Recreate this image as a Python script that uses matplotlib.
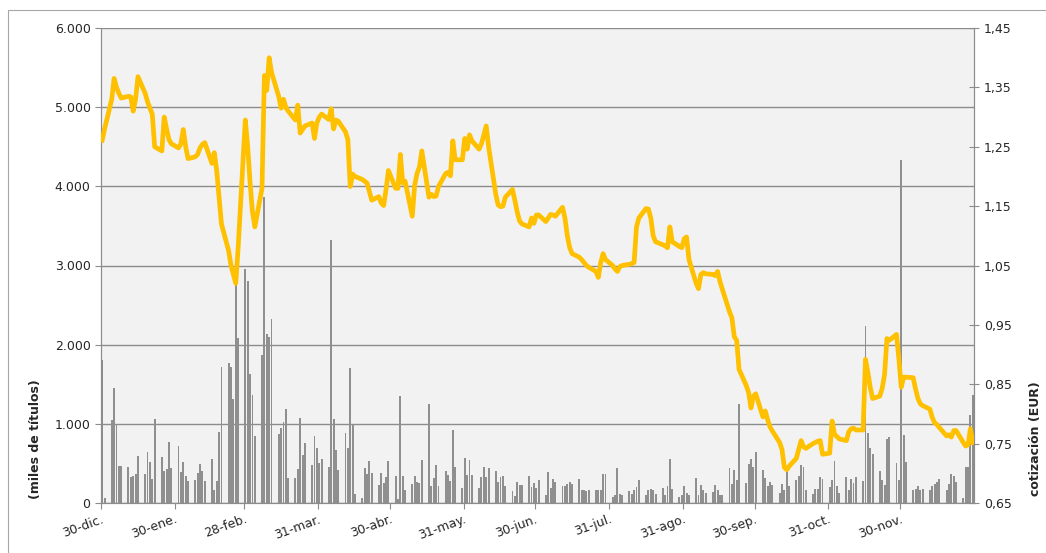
import numpy as np
import pandas as pd
import matplotlib
matplotlib.use("Agg")
import matplotlib.pyplot as plt
import matplotlib.dates as mdates
from matplotlib.patches import Rectangle

# trading sessions (weekdays) shown on the calendar axis
sessions = pd.bdate_range("2010-12-30", "2011-12-30")

# daily close, EUR (right axis) - one row per week
price = [
    1.261, 1.280,
    1.330, 1.365, 1.350, 1.340, 1.332,
    1.335, 1.334, 1.310, 1.330, 1.368,
    1.340, 1.326, 1.315, 1.305, 1.250,
    1.243, 1.300, 1.280, 1.262, 1.255,
    1.248, 1.255, 1.279, 1.250, 1.230,
    1.233, 1.237, 1.248, 1.254, 1.257,
    1.222, 1.240, 1.210, 1.166, 1.120,
    1.075, 1.050, 1.035, 1.020, 1.080,
    1.295, 1.250, 1.190, 1.140, 1.115,
    1.180, 1.370, 1.345, 1.400, 1.375,
    1.335, 1.315, 1.330, 1.316, 1.310,
    1.295, 1.320, 1.273, 1.279, 1.285,
    1.290, 1.264, 1.290, 1.300, 1.305,
    1.296, 1.314, 1.280, 1.295, 1.293,
    1.275, 1.262, 1.183, 1.204, 1.200,
    1.195, 1.192, 1.189, 1.175, 1.160,
    1.166, 1.155, 1.151, 1.178, 1.210,
    1.180, 1.180, 1.237, 1.189, 1.192,
    1.133, 1.185, 1.205, 1.216, 1.243,
    1.165, 1.170, 1.166, 1.167, 1.183,
    1.205, 1.207, 1.201, 1.260, 1.228,
    1.228, 1.264, 1.246, 1.270, 1.260,
    1.246, 1.255, 1.270, 1.285, 1.250,
    1.170, 1.152, 1.149, 1.150, 1.165,
    1.178, 1.160, 1.140, 1.125, 1.120,
    1.115, 1.130, 1.121, 1.135, 1.135,
    1.124, 1.130, 1.136, 1.135, 1.133,
    1.148, 1.130, 1.100, 1.080, 1.070,
    1.064, 1.060, 1.055, 1.050, 1.047,
    1.040, 1.030, 1.055, 1.070, 1.060,
    1.050, 1.044, 1.040, 1.048, 1.050,
    1.052, 1.053, 1.055, 1.115, 1.130,
    1.146, 1.145, 1.130, 1.100, 1.090,
    1.085, 1.083, 1.080, 1.115, 1.090,
    1.082, 1.080, 1.095, 1.098, 1.060,
    1.020, 1.011, 1.035, 1.038, 1.036,
    1.035, 1.033, 1.040, 1.023, 1.010,
    0.972, 0.962, 0.930, 0.924, 0.875,
    0.848, 0.836, 0.810, 0.830, 0.834,
    0.795, 0.805, 0.790, 0.778, 0.771,
    0.752, 0.740, 0.710, 0.706, 0.712,
    0.725, 0.740, 0.755, 0.745, 0.742,
    0.750, 0.752, 0.754, 0.755, 0.732,
    0.734, 0.788, 0.766, 0.762, 0.758,
    0.755, 0.770, 0.775, 0.776, 0.773,
    0.773, 0.892, 0.870, 0.845, 0.826,
    0.830, 0.843, 0.866, 0.927, 0.924,
    0.934, 0.893, 0.845, 0.862, 0.862,
    0.861, 0.842, 0.826, 0.817, 0.814,
    0.808, 0.794, 0.785, 0.782, 0.777,
    0.763, 0.765, 0.761, 0.772, 0.772,
    0.752, 0.746, 0.748, 0.775, 0.752,
]

# daily volume, thousands of shares (left axis)
volume = [
    1810, 60,
    1050, 1450, 1000, 470, 470,
    450, 325, 345, 365, 600,
    365, 640, 515, 300, 1060,
    575, 410, 430, 765, 440,
    725, 390, 515, 345, 280,
    290, 380, 490, 400, 275,
    560, 170, 280, 900, 1715,
    1770, 1720, 1310, 2830, 2090,
    2950, 2800, 1630, 1360, 850,
    1870, 3860, 2130, 2100, 2330,
    875, 950, 1025, 1190, 320,
    320, 430, 1075, 610, 760,
    480, 850, 690, 500, 550,
    460, 3320, 1060, 665, 420,
    880, 700, 1700, 995, 120,
    60, 440, 370, 530, 380,
    230, 375, 250, 325, 530,
    335, 55, 1355, 345, 170,
    240, 335, 270, 250, 540,
    1250, 215, 310, 485, 215,
    410, 360, 280, 920, 450,
    185, 570, 360, 545, 360,
    185, 325, 450, 325, 440,
    400, 260, 325, 345, 220,
    150, 85, 260, 230, 230,
    335, 205, 250, 185, 290,
    95, 390, 185, 300, 270,
    210, 215, 240, 260, 240,
    300, 160, 165, 150, 165,
    160, 160, 160, 365, 365,
    75, 105, 440, 120, 95,
    150, 110, 160, 200, 290,
    100, 160, 180, 170, 110,
    195, 100, 210, 560, 180,
    75, 95, 210, 130, 95,
    310, 100, 230, 170, 125,
    145, 230, 170, 105, 95,
    440, 240, 420, 290, 1250,
    250, 490, 560, 460, 650,
    420, 320, 210, 260, 230,
    125, 240, 165, 410, 210,
    285, 340, 480, 450, 165,
    110, 175, 180, 330, 300,
    200, 290, 530, 210, 125,
    330, 160, 300, 250, 330,
    280, 2240, 880, 700, 615,
    410, 290, 225, 810, 835,
    510, 290, 4330, 865, 520,
    160, 180, 210, 170, 180,
    165, 210, 240, 270, 300,
    165, 240, 365, 345, 270,
    60, 455, 450, 1110, 1360,
]

tick_dates = ["2010-12-30", "2011-01-30", "2011-02-28", "2011-03-31",
              "2011-04-30", "2011-05-31", "2011-06-30", "2011-07-31",
              "2011-08-31", "2011-09-30", "2011-10-31", "2011-11-30"]
tick_labels = ["30-dic.", "30-ene.", "28-feb.", "31-mar.", "30-abr.",
               "31-may.", "30-jun.", "31-jul.", "31-ago.", "30-sep.",
               "31-oct.", "30-nov."]

assert len(price) == len(volume) == len(sessions)

GRID = "#8c8c8c"
TXT = "#262626"

fig = plt.figure(figsize=(10.46, 5.53), dpi=100)
# chart-area frame (right/bottom edges fall outside the crop)
fig.patches.append(Rectangle((8 / 1046, -0.05), 1.2, 1 - 9.5 / 553 + 0.05,
                             transform=fig.transFigure, fill=False,
                             edgecolor="#a6a6a6", lw=0.8))
ax = fig.add_axes([101 / 1046, 50 / 553, 873 / 1046, 475 / 553])
ax.set_facecolor("#f2f2f2")

# bars / line sit in the middle of each day slot (Excel date axis)
xc = mdates.date2num(sessions) + 0.5
ax.bar(xc, volume, width=0.8, color="#8f8f8f", zorder=2)
ax.set_ylim(0, 6000)
ax.set_yticks(np.arange(0, 6001, 1000))
ax.set_yticklabels([f"{int(v):,}".replace(",", ".") for v in ax.get_yticks()])
ax.grid(axis="y", color=GRID, lw=1.0, zorder=1)
ax.set_axisbelow(True)
ax.set_xlim(mdates.date2num(pd.Timestamp("2010-12-30")),
            mdates.date2num(pd.Timestamp("2011-12-31")))
ax.set_xticks(mdates.date2num(pd.to_datetime(tick_dates)))
ax.set_xticklabels(tick_labels, rotation=20, ha="right",
                   rotation_mode="anchor")

ax2 = ax.twinx()
ax2.plot(xc, price, color="#ffc000", lw=3.4, solid_joinstyle="round",
         zorder=3)
ax2.set_ylim(0.65, 1.45)
ax2.set_yticks(np.round(np.arange(0.65, 1.451, 0.10), 2))
ax2.set_yticklabels([f"{v:.2f}".replace(".", ",") for v in ax2.get_yticks()])

for a in (ax, ax2):
    a.spines["top"].set_visible(False)
    for s in ("left", "right", "bottom"):
        a.spines[s].set_color(GRID)
    a.tick_params(colors=GRID, labelcolor=TXT, labelsize=9, length=4,
                  width=0.8)
ax2.tick_params(axis="y", direction="inout", length=7)
ax.tick_params(axis="x", pad=3)

fig.text(35 / 1046, 1 - 439 / 553, "(miles de títulos)", rotation=90,
         ha="center", va="center", fontsize=9, fontweight="bold", color=TXT)
fig.text(1035 / 1046, 1 - 439 / 553, "cotización (EUR)", rotation=90,
         ha="center", va="center", fontsize=9, fontweight="bold", color=TXT)

fig.savefig("out.png", dpi=100)
